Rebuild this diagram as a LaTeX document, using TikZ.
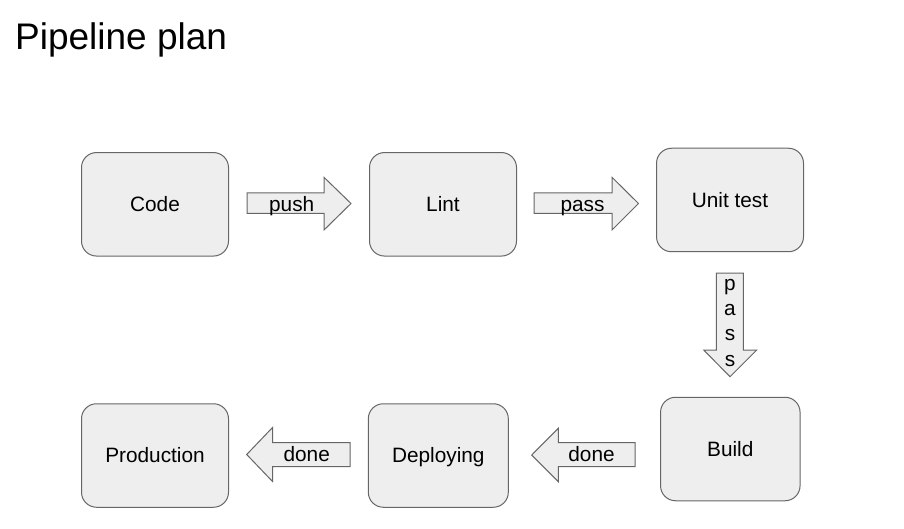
\documentclass[tikz,border=0pt]{standalone}
\usepackage{fontspec}
\setmainfont{Liberation Sans}
\definecolor{boxfill}{HTML}{EEEEEE}
\definecolor{boxline}{HTML}{666666}
\begin{document}
\begin{tikzpicture}[x=1pt,y=-1pt,
  box/.style={draw=boxline, fill=boxfill, rounded corners=15pt, line width=1pt,
    minimum width=147pt, minimum height=103.5pt, inner sep=0pt,
    font=\fontsize{20.8}{24}\selectfont, text height=14.9pt, text depth=0pt},
  blockarrow/.style={draw=boxline, fill=boxfill, line width=1pt, line join=miter},
  lbl/.style={font=\fontsize{20.8}{24}\selectfont, inner sep=0pt, anchor=base}]
\useasboundingbox (0,0) rectangle (904,529);

\node[anchor=base west, inner sep=0pt, font=\fontsize{37}{44}\selectfont] (title) at (15,49.5) {Pipeline plan};

% boxes
\node[box] (code) at (155,204.3) {Code};
\node[box] (lint) at (443,204.3) {Lint};
\node[box] (unit) at (730,200) {Unit test};
\node[box, minimum width=139.5pt] (build) at (730.3,449) {Build};
\node[box, minimum width=140pt] (deploy) at (438.3,455.5) {Deploying};
\node[box] (prod) at (155,455.5) {Production};

% push arrow
\draw[blockarrow] (247,192.8) -- (324,192.8) -- (324,177.3) -- (351,203.5) -- (324,230) -- (324,213.5) -- (247,213.5) -- cycle;
\node[lbl] (push) at (291.7,211.7) {push};

% pass arrow
\draw[blockarrow] (534,192.8) -- (612,192.8) -- (612,177.3) -- (638.5,203.5) -- (612,230) -- (612,213.5) -- (534,213.5) -- cycle;
\node[lbl] (pass) at (582.5,211.7) {pass};

% pass down arrow
\draw[blockarrow] (716.3,273) -- (743.3,273) -- (743.3,350) -- (756.7,350) -- (730,376.7) -- (703.7,350) -- (716.3,350) -- cycle;
\node[lbl] (p1) at (730,290.5) {p};
\node[lbl] (p2) at (730,315) {a};
\node[lbl] (p3) at (730,340.5) {s};
\node[lbl] (p4) at (730,366) {s};

% done arrow (build -> deploying)
\draw[blockarrow] (635,442.7) -- (558.3,442.7) -- (558.3,428.3) -- (531.7,455) -- (558.3,481.7) -- (558.3,466.7) -- (635,466.7) -- cycle;
\node[lbl] (done1) at (591.5,461.7) {done};

% done arrow (deploying -> production)
\draw[blockarrow] (350,442.7) -- (272.7,442.7) -- (272.7,427.3) -- (246.7,454.5) -- (272.7,481.7) -- (272.7,466.7) -- (350,466.7) -- cycle;
\node[lbl] (done2) at (306.7,461.7) {done};
\end{tikzpicture}
\end{document}
